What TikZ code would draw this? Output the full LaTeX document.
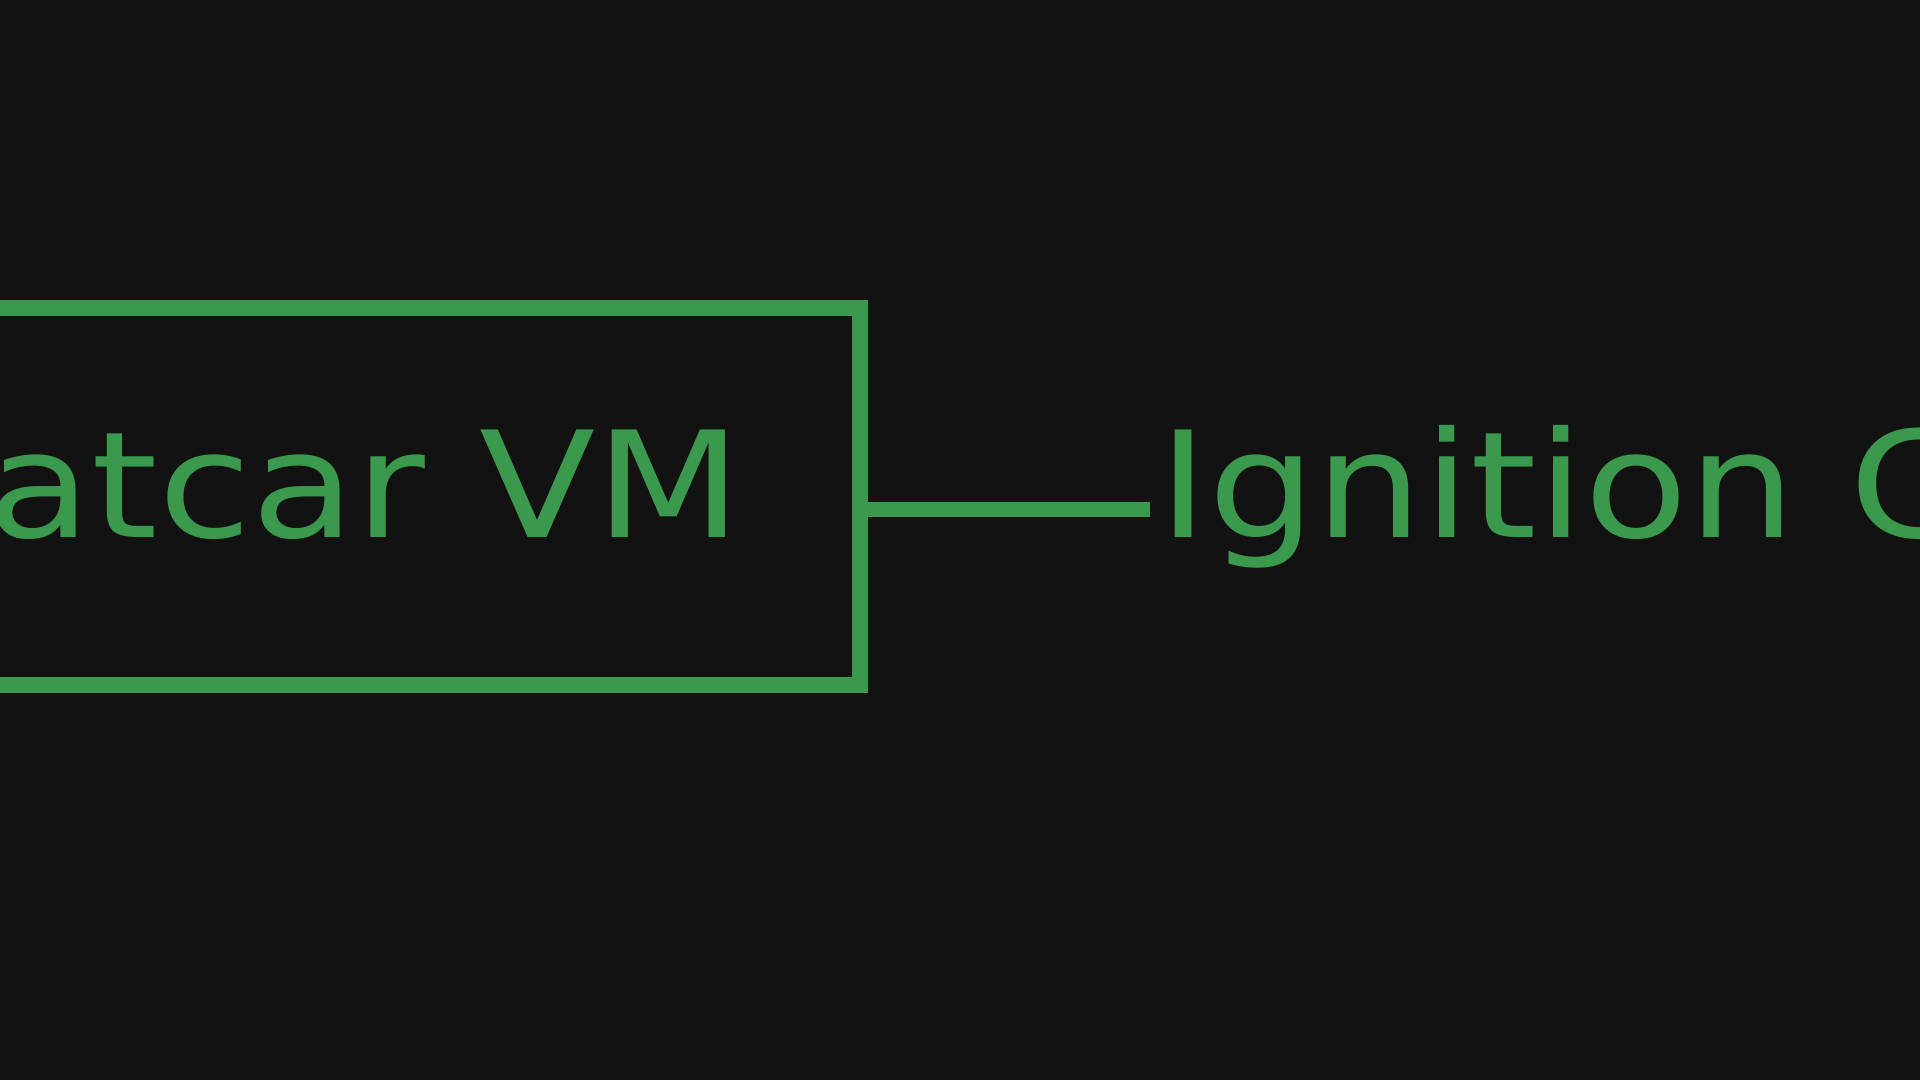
\documentclass[tikz,border=0pt]{standalone}
\usepackage{fontspec}
\newfontfamily\handfont[FakeStretch=1.15]{DejaVu Sans}
\usetikzlibrary{calc}
\usetikzlibrary{positioning}
\definecolor{bgdark}{RGB}{18,18,18}
\definecolor{vmgreen}{RGB}{58,153,76}

\begin{document}
\begin{tikzpicture}[vmgreen, line width = 0.16cm,
    vmbox/.style = {rectangle, draw, minimum width = 11.5cm, minimum height = 3.77cm, inner sep = 0pt},
    handtext/.style = {inner sep = 0pt, font = \handfont\fontsize{42}{50}\selectfont},
    link/.style = {line width = 0.15cm}]

    \clip (0,0) rectangle (19.2,10.8);
    \fill[bgdark] (0,0) rectangle (19.2,10.8);

    % the vm, cut off at the left
    \node (vm) at (2.85,5.835) [vmbox] {};
    \node (vmtext) at (7.5,5.42) [handtext, anchor = base east] {Flatcar VM};

    % what it is fed with, cut off at the right
    \node (ign) at (11.5,5.42) [handtext, anchor = base west] {Ignition Config};

    \coordinate (tap) at ($(vm.east)+(0,-0.13)$);
    \draw[link] (tap) -- (tap -| ign.west);

\end{tikzpicture}
\end{document}
